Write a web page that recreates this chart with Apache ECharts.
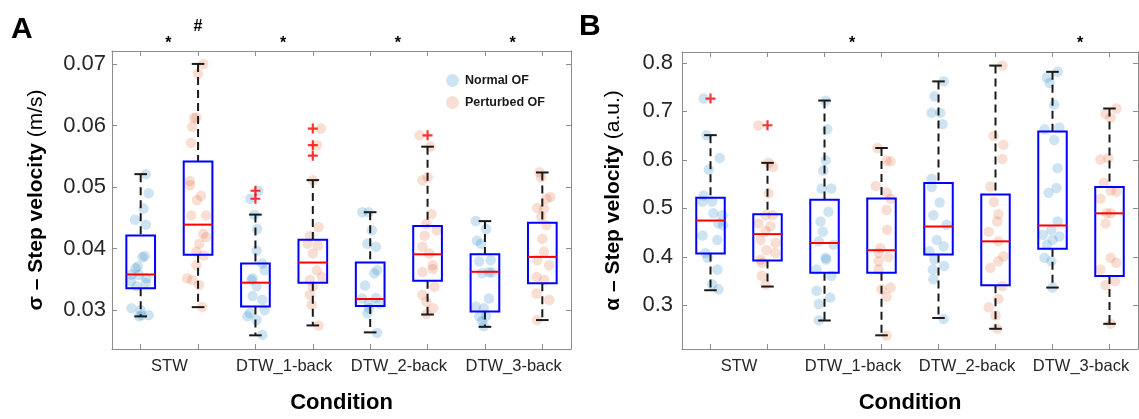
<!DOCTYPE html>
<html><head><meta charset="utf-8">
<script src="https://cdn.jsdelivr.net/npm/echarts@6/dist/echarts.min.js"></script>
<style>html,body{margin:0;padding:0;background:#fff}#c{width:1139px;height:419px}</style>
</head><body><div id="c"></div>
<script>
const conditions = ['STW', 'DTW_1-back', 'DTW_2-back', 'DTW_3-back'];
const groupNames = ['Normal OF', 'Perturbed OF'];
const yTicksA = [0.03, 0.04, 0.05, 0.06, 0.07];
const yTicksB = [0.3, 0.4, 0.5, 0.6, 0.7, 0.8];
const sigA = ['*', '*', '*', '*'];
const hashA = ['#', '', '', ''];
const sigB = ['', '*', '', '*'];

// box stats [lower whisker, Q1, median, Q3, upper whisker]; order: STW-N, STW-P, 1back-N, 1back-P, ...
const boxStatsA = [
  [0.0290, 0.03355, 0.0358, 0.04215, 0.0521],
  [0.0305, 0.0390, 0.0439, 0.05415, 0.0700],
  [0.02592, 0.0306, 0.03447, 0.03758, 0.04553],
  [0.02753, 0.03447, 0.03774, 0.04145, 0.05113],
  [0.0264, 0.0307, 0.03182, 0.03774, 0.04592],
  [0.0293, 0.03479, 0.03908, 0.04366, 0.05656],
  [0.0273, 0.02979, 0.03624, 0.03908, 0.04447],
  [0.0284, 0.03436, 0.03866, 0.0442, 0.05237]
];
const outliersA = [[2, 0.0494], [2, 0.0481], [3, 0.0595], [3, 0.0568], [3, 0.0551], [5, 0.0584]];
// raw points per box: [jitter (category units), value]
const pointsA = [
  [[0.09,0.0521],[0.14,0.0490],[0.05,0.0465],[-0.10,0.0447],[0.09,0.0439],[0.07,0.0388],[0.03,0.0386],[-0.09,0.0368],[-0.05,0.0371],[-0.16,0.0358],[-0.03,0.0357],[0.10,0.0352],[-0.17,0.0347],[0.09,0.0344],[-0.07,0.0339],[-0.16,0.0303],[0,0.0300],[0.02,0.0292],[0.14,0.0292],[-0.03,0.0290]],
  [[0.09,0.0700],[0,0.0684],[-0.07,0.0612],[-0.03,0.0613],[-0.10,0.0598],[-0.12,0.0572],[-0.14,0.0510],[-0.14,0.0503],[0.05,0.0486],[-0.02,0.0479],[-0.12,0.0454],[0.14,0.0454],[0.09,0.0424],[0.14,0.0419],[0.02,0.0408],[-0.03,0.0395],[0.10,0.0389],[-0.03,0.0373],[-0.19,0.0352],[-0.10,0.0349],[0.02,0.0341],[0.07,0.0305]],
  [[0.05,0.0494],[-0.09,0.0481],[-0.02,0.0455],[0.03,0.0432],[0.02,0.0397],[0.12,0.0376],[0.16,0.0365],[-0.05,0.0352],[-0.07,0.0349],[0.02,0.0339],[-0.05,0.0323],[0.12,0.0317],[-0.10,0.0295],[-0.14,0.0290],[0.16,0.0300],[0.02,0.0284],[0.12,0.0260]],
  [[0.14,0.0595],[0.07,0.0568],[0,0.0511],[0.10,0.0435],[-0.05,0.0421],[-0.09,0.0408],[0.09,0.0405],[0,0.0392],[0.07,0.0365],[0.16,0.0354],[-0.05,0.0349],[0,0.0338],[-0.05,0.0325],[-0.02,0.0309],[0.10,0.0275]],
  [[-0.14,0.0459],[-0.03,0.0459],[0.03,0.0430],[-0.05,0.0408],[0.10,0.0403],[0.12,0.0365],[0.07,0.0360],[-0.09,0.0340],[-0.14,0.0319],[0.10,0.0320],[-0.02,0.0311],[0.16,0.0311],[-0.05,0.0295],[-0.02,0.0303],[0.12,0.0263]],
  [[-0.14,0.0584],[0.05,0.0566],[-0.09,0.0511],[0,0.0516],[0.07,0.0456],[-0.02,0.0440],[0.16,0.0430],[-0.05,0.0421],[-0.09,0.0403],[0.03,0.0392],[0.09,0.0373],[0.09,0.0367],[-0.09,0.0362],[0.12,0.0338],[-0.09,0.0325],[0.10,0.0303],[-0.02,0.0314],[-0.02,0.0294]],
  [[-0.16,0.0445],[0.02,0.0432],[-0.14,0.0413],[-0.07,0.0408],[-0.10,0.0379],[0.10,0.0381],[-0.05,0.0360],[0.12,0.0361],[0.07,0.0362],[0.07,0.0319],[-0.16,0.0306],[-0.02,0.0303],[0.02,0.0290],[-0.10,0.0290],[-0.05,0.0282],[-0.02,0.0274]],
  [[-0.05,0.0524],[-0.02,0.0516],[0.14,0.0484],[-0.09,0.0466],[0.07,0.0481],[0.03,0.0465],[-0.02,0.0452],[0.07,0.0438],[0,0.0416],[0.03,0.0395],[-0.09,0.0381],[0.12,0.0373],[-0.10,0.0354],[0.03,0.0349],[-0.10,0.0327],[0.12,0.0317],[-0.09,0.0284]]
];

const boxStatsB = [
  [0.3312, 0.4068, 0.4749, 0.522, 0.651],
  [0.3388, 0.3925, 0.4469, 0.4878, 0.5939],
  [0.2688, 0.3673, 0.4286, 0.518, 0.7224],
  [0.2382, 0.3673, 0.4137, 0.5204, 0.6245],
  [0.274, 0.4048, 0.4626, 0.5524, 0.7619],
  [0.2517, 0.3415, 0.432, 0.5286, 0.7945],
  [0.3367, 0.417, 0.4647, 0.6586, 0.7816],
  [0.2619, 0.3605, 0.4898, 0.5443, 0.706]
];
const outliersB = [[0, 0.7265], [1, 0.6714]];
const pointsB = [
  [[-0.12,0.7265],[-0.07,0.651],[0.16,0.604],[-0.03,0.580],[-0.12,0.5265],[0.03,0.514],[-0.14,0.514],[0.05,0.490],[0.21,0.486],[0.22,0.465],[0.14,0.469],[-0.14,0.444],[0.12,0.435],[-0.09,0.408],[-0.05,0.398],[0.12,0.374],[0.14,0.333],[0.03,0.3435]],
  [[-0.16,0.671],[0.02,0.594],[0.10,0.586],[0.02,0.531],[-0.03,0.486],[0.09,0.486],[-0.16,0.469],[0.05,0.463],[-0.03,0.453],[-0.12,0.435],[0.14,0.429],[-0.02,0.414],[0.14,0.408],[-0.12,0.3945],[-0.10,0.388],[-0.10,0.361],[-0.03,0.343]],
  [[0.02,0.722],[0.05,0.663],[0.02,0.599],[-0.02,0.578],[-0.05,0.541],[0.12,0.541],[0.07,0.493],[-0.07,0.473],[-0.03,0.452],[-0.10,0.432],[0.16,0.425],[0.02,0.398],[0.03,0.3945],[-0.14,0.374],[0.12,0.361],[-0.14,0.330],[0.10,0.316],[-0.10,0.3027],[-0.10,0.269]],
  [[-0.07,0.6245],[0.16,0.597],[0.09,0.598],[-0.10,0.546],[0.09,0.533],[0.16,0.520],[0.09,0.4966],[0.10,0.4557],[-0.02,0.418],[-0.05,0.408],[0.12,0.399],[-0.05,0.391],[-0.05,0.374],[0.16,0.3367],[0,0.333],[0.09,0.318],[0.09,0.238]],
  [[0.09,0.762],[-0.07,0.731],[-0.12,0.697],[0.03,0.697],[0.07,0.6735],[-0.12,0.561],[-0.12,0.544],[0.02,0.512],[-0.09,0.486],[0.14,0.466],[-0.03,0.435],[0.09,0.422],[-0.16,0.4116],[-0.07,0.3945],[0.10,0.381],[-0.10,0.374],[-0.09,0.3537],[0.09,0.272]],
  [[0.12,0.7945],[-0.03,0.6497],[0.14,0.631],[0.12,0.602],[-0.09,0.545],[-0.03,0.513],[0.05,0.4878],[0.03,0.473],[-0.12,0.452],[0.05,0.432],[0.14,0.4014],[0.05,0.391],[-0.09,0.3776],[0.12,0.340],[0.05,0.3129],[-0.12,0.296],[0,0.279],[0.03,0.252]],
  [[0.09,0.7816],[-0.10,0.770],[-0.05,0.7585],[0.03,0.714],[-0.14,0.663],[0.12,0.6667],[0.03,0.641],[0.09,0.583],[0.07,0.542],[-0.07,0.532],[0.09,0.473],[-0.02,0.4557],[-0.17,0.4455],[0.12,0.442],[-0.10,0.425],[0,0.435],[-0.14,0.398],[-0.02,0.391],[0,0.3367]],
  [[0.12,0.706],[-0.07,0.695],[0.02,0.687],[-0.02,0.604],[-0.16,0.6006],[-0.10,0.553],[0.02,0.537],[0.12,0.534],[-0.16,0.520],[-0.05,0.4898],[0.02,0.4898],[-0.07,0.469],[0.02,0.398],[0.12,0.388],[-0.16,0.374],[0.10,0.350],[-0.07,0.342],[0.02,0.262]]
];

const FONT = '"Liberation Sans", Arial, Helvetica, sans-serif';
const AXIS_GRAY = '#8c8c8c';
const COLORS = ['rgba(0,114,189,0.24)', 'rgba(217,83,25,0.24)'];
const PLUS = 'path://M-1.1,-5H1.1V-1.1H5V1.1H1.1V5H-1.1V1.1H-5V-1.1H-1.1Z';

const chart = echarts.init(document.getElementById('c'), null, {renderer: 'canvas'});

function renderBox(params, api) {
  const x = api.value(0);
  const pLow = api.coord([x, api.value(1)]);
  const pQ1 = api.coord([x, api.value(2)]);
  const pMed = api.coord([x, api.value(3)]);
  const pQ3 = api.coord([x, api.value(4)]);
  const pHigh = api.coord([x, api.value(5)]);
  const w = api.size([1, 0])[0];
  const bh = w * 0.25, ch = w * 0.11;
  const cx = pMed[0];
  const dash = {stroke: '#1a1a1a', lineWidth: 2, lineDash: [8, 5]};
  const solid = {stroke: '#1a1a1a', lineWidth: 2};
  return {type: 'group', children: [
    {type: 'line', shape: {x1: cx, y1: pHigh[1], x2: cx, y2: pQ3[1]}, style: dash},
    {type: 'line', shape: {x1: cx, y1: pQ1[1], x2: cx, y2: pLow[1]}, style: dash},
    {type: 'line', shape: {x1: cx - ch, y1: pHigh[1], x2: cx + ch, y2: pHigh[1]}, style: solid},
    {type: 'line', shape: {x1: cx - ch, y1: pLow[1], x2: cx + ch, y2: pLow[1]}, style: solid},
    {type: 'rect', shape: {x: cx - bh, y: pQ3[1], width: 2 * bh, height: pQ1[1] - pQ3[1]}, style: {fill: null, stroke: '#0000ff', lineWidth: 2}},
    {type: 'line', shape: {x1: cx - bh, y1: pMed[1], x2: cx + bh, y2: pMed[1]}, style: {stroke: '#ff0000', lineWidth: 2}}
  ]};
}

function xAxes(gi) {
  const base = {type: 'value', gridIndex: gi, min: 0.5, max: 8.5, splitLine: {show: false},
    axisLine: {onZero: false, lineStyle: {color: AXIS_GRAY, width: 1}}};
  return [
    Object.assign({}, base, {position: 'bottom',
      axisTick: {inside: true, length: 5, lineStyle: {color: AXIS_GRAY}, customValues: [1,2,3,4,5,6,7,8]},
      axisLabel: {customValues: [1.5, 3.5, 5.5, 7.5], margin: 9, color: '#262626', fontSize: 16.5, fontFamily: FONT,
        formatter: v => conditions[Math.round((v - 1.5) / 2)]},
      name: 'Condition', nameLocation: 'middle', nameGap: 43,
      nameTextStyle: {fontSize: 22, fontWeight: 'bold', color: '#000', fontFamily: FONT}}),
    Object.assign({}, base, {position: 'top',
      axisTick: {inside: true, length: 5, lineStyle: {color: AXIS_GRAY}, customValues: [1,2,3,4,5,6,7,8]},
      axisLabel: {show: false}})
  ];
}
function yAxes(gi, mn, mx, ticks, dec, nameRich, gap) {
  const base = {type: 'value', gridIndex: gi, min: mn, max: mx, splitLine: {show: false},
    axisLine: {onZero: false, lineStyle: {color: AXIS_GRAY, width: 1}}};
  return [
    Object.assign({}, base, {position: 'left',
      axisTick: {inside: true, length: 5, lineStyle: {color: AXIS_GRAY}, customValues: ticks},
      axisLabel: {customValues: ticks, margin: gi === 0 ? 6 : 9, color: '#262626', fontSize: 22, fontFamily: FONT,
        formatter: v => v.toFixed(dec)},
      name: nameRich, nameLocation: 'middle', nameGap: gap, nameRotate: 90,
      nameTextStyle: {fontSize: 21, color: '#000', fontFamily: FONT,
        rich: {b: {fontSize: 21, fontWeight: 'bold', color: '#000', fontFamily: FONT},
               n: {fontSize: 21, color: '#000', fontFamily: FONT}}}}),
    Object.assign({}, base, {position: 'right',
      axisTick: {inside: true, length: 5, lineStyle: {color: AXIS_GRAY}, customValues: ticks},
      axisLabel: {show: false}})
  ];
}

function panelSeries(gi, boxStats, points, outliers) {
  const xi = gi * 2, yi = gi * 2;
  const s = [];
  for (let g = 0; g < 2; g++) {
    const data = [];
    points.forEach((pts, i) => {
      if (i % 2 !== g) return;
      pts.forEach(p => data.push([i + 1 + p[0], p[1]]));
    });
    s.push({type: 'scatter', name: groupNames[g], xAxisIndex: xi, yAxisIndex: yi, data: data,
      symbol: 'circle', symbolSize: 10.5, itemStyle: {color: COLORS[g]}, silent: true, z: 2, clip: false});
  }
  s.push({type: 'custom', xAxisIndex: xi, yAxisIndex: yi, renderItem: renderBox,
    data: boxStats.map((b, i) => [i + 1].concat(b)), encode: {x: 0, y: [1, 2, 3, 4, 5]}, z: 3, silent: true, clip: false});
  s.push({type: 'scatter', xAxisIndex: xi, yAxisIndex: yi, data: outliers.map(o => [o[0] + 1, o[1]]),
    symbol: PLUS, symbolSize: 10, itemStyle: {color: '#ff0000'}, z: 4, silent: true, clip: false});
  return s;
}

const option = {
  animation: false,
  grid: [
    {left: 112, top: 51, width: 459, height: 300},
    {left: 682, top: 52, width: 456, height: 300}
  ],
  xAxis: xAxes(0).concat(xAxes(1)),
  yAxis: yAxes(0, 0.0237, 0.0721, yTicksA, 2, '{b|σ – Step velocity} {n|(m/s)}', 65)
    .concat(yAxes(1, 0.210, 0.8225, yTicksB, 1, '{b|α – Step velocity} {n|(a.u.)}', 58)),
  legend: {data: groupNames, left: 441, top: 69, orient: 'vertical', icon: 'circle',
    itemWidth: 15, itemHeight: 13, itemGap: 9,
    textStyle: {fontSize: 12.5, fontWeight: 'bold', color: '#1a1a1a', fontFamily: FONT}},
  series: panelSeries(0, boxStatsA, pointsA, outliersA).concat(panelSeries(1, boxStatsB, pointsB, outliersB))
};
chart.setOption(option);

const g = [
  {type: 'text', left: 11, top: 15, style: {text: 'A', font: 'bold 30px ' + FONT, fill: '#000'}},
  {type: 'text', left: 579, top: 12, style: {text: 'B', font: 'bold 30px ' + FONT, fill: '#000'}}
];
function addMarks(gi, sig, hash) {
  sig.forEach((t, c) => {
    if (!t) return;
    const px = chart.convertToPixel({xAxisIndex: gi * 2, yAxisIndex: gi * 2}, [2 * c + 1.5, 0.5]);
    g.push({type: 'text', x: px[0] - 1, y: 44, style: {text: t, font: 'bold 16px ' + FONT, fill: '#000', align: 'center', verticalAlign: 'middle'}});
  });
  (hash || []).forEach((t, c) => {
    if (!t) return;
    const px = chart.convertToPixel({xAxisIndex: gi * 2, yAxisIndex: gi * 2}, [2 * c + 2, 0.5]);
    g.push({type: 'text', x: px[0], y: 27, style: {text: t, font: 'bold 16px ' + FONT, fill: '#000', align: 'center', verticalAlign: 'middle'}});
  });
}
addMarks(0, sigA, hashA);
addMarks(1, sigB, null);
chart.setOption({graphic: g});
</script></body></html>
